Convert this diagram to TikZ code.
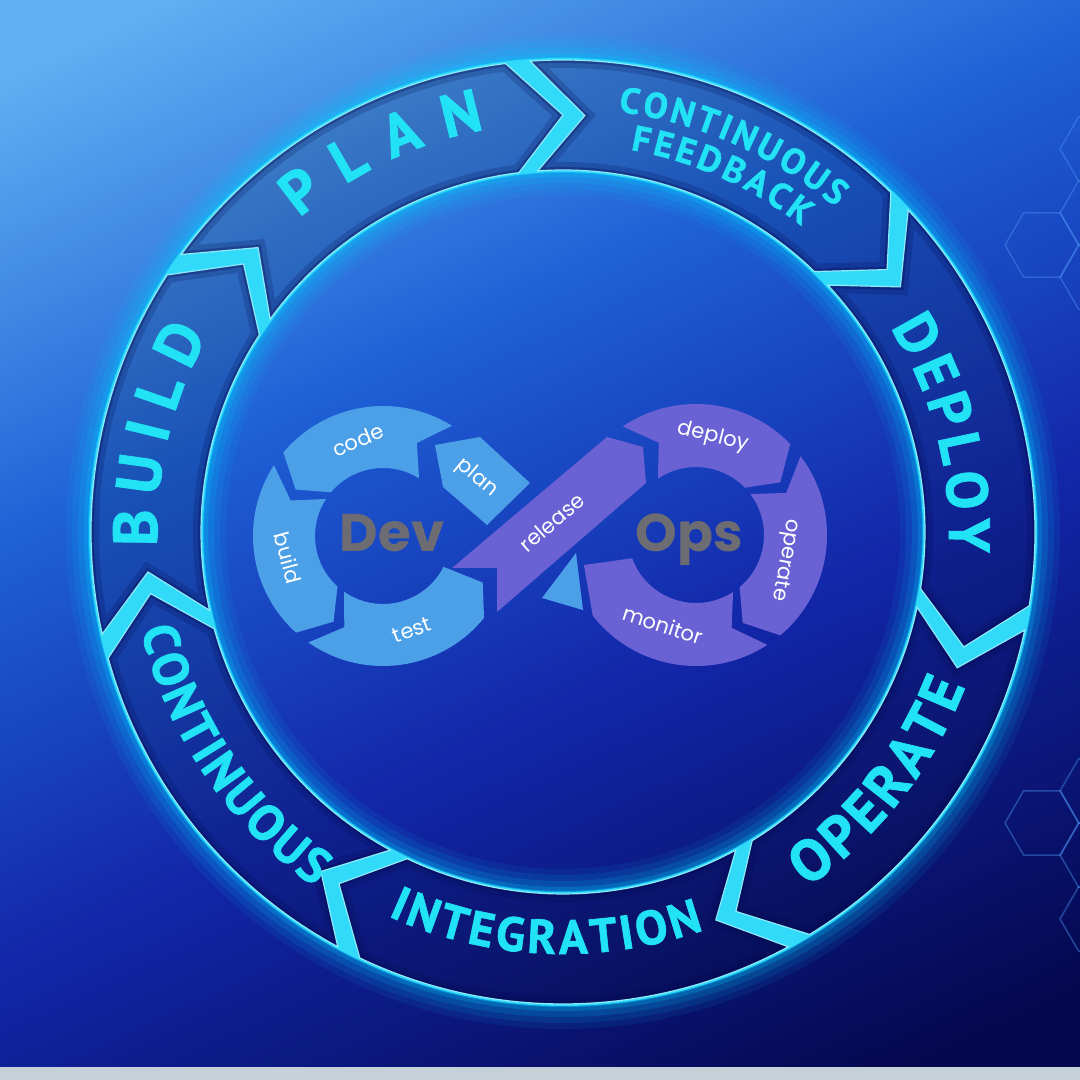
\documentclass[tikz,border=0pt]{standalone}
\usepackage{fontspec}
\usepackage{tikz}
\usetikzlibrary{decorations.text}
\newfontfamily\ringfont[BoldFeatures={FakeBold=1.3}]{PT Sans}
\newfontfamily\logofont{Poppins}
\definecolor{bgtop}{RGB}{96,176,242}
\definecolor{bgmid}{RGB}{30,96,214}
\definecolor{bgdeep}{RGB}{18,38,168}
\definecolor{bgdark}{RGB}{4,8,78}
\definecolor{ringcyan}{RGB}{50,218,250}
\definecolor{glowcyan}{RGB}{0,205,255}
\definecolor{lblcyan}{RGB}{34,226,246}
\definecolor{devblue}{RGB}{76,160,232}
\definecolor{opspurple}{RGB}{106,98,212}
\definecolor{devgray}{RGB}{108,108,114}
\definecolor{hexline}{RGB}{72,142,236}
\definecolor{stripgray}{RGB}{197,208,216}

\pgfdeclareverticalshading{bgfade}{100bp}{color(0bp)=(bgdark); color(20bp)=(bgdark); color(42bp)=(bgdeep); color(60bp)=(bgmid); color(80bp)=(bgtop); color(100bp)=(bgtop)}

% one arrow of the outer ring: tail corner, tail notch, head corner, head tip
\newcommand{\ringseg}[4]{(#1:472) arc[start angle=#1, end angle=#3, radius=472] -- (#4:417) -- (#3:362) arc[start angle=#3, end angle=#1, radius=362] -- (#2:417) -- cycle}

% curved label: start angle, end angle, radius, size, text
\newcommand{\ringlabel}[5]{%
  \path[decorate, decoration={text along path, text color=lblcyan, text align={fit to path}, text={|\ringfont\bfseries\fontsize{#4}{#4}\selectfont|#5}}] (#1:#3) arc[start angle=#1, end angle=#2, radius=#3];
}

\begin{document}
\begin{tikzpicture}[x=1pt, y=1pt,
  steptxt/.style={text=white, font=\logofont\fontsize{21}{21}\selectfont},
  bigtxt/.style={text=devgray, anchor=base, font=\logofont\bfseries\fontsize{53}{53}\selectfont}]
\useasboundingbox (0,0) rectangle (1080,1080);

% Background
\shade[shading=bgfade, shading angle=25] (0,13) rectangle (1080,1080);
\fill[stripgray] (0,0) rectangle (1080,13);

% Hexagons on the right
\foreach \hx/\hy in {1042/835, 1097/867, 1097/803, 1097/931, 1042/257, 1097/289, 1097/225, 1097/161} {
    \draw[hexline, opacity=0.45, line width=1.5] (\hx,\hy) +(0:37) -- +(60:37) -- +(120:37) -- +(180:37) -- +(240:37) -- +(300:37) -- cycle;
}

% Outer ring
\begin{scope}[shift={(563,548)}]
% glow
\foreach \lw/\op in {50/0.08, 38/0.10, 26/0.14, 14/0.22, 6/0.45} {
    \draw[glowcyan, line width=\lw, opacity=\op] (0,0) circle[radius=472];
    \draw[glowcyan, line width=\lw, opacity=\op] (0,0) circle[radius=362];
}
% cyan band between the arrows
\fill[ringcyan, even odd rule] (0,0) circle[radius=474] (0,0) circle[radius=360];

% arrows
\begin{scope}
\clip \ringseg{144}{137}{97}{90} \ringseg{94}{87}{46}{39} \ringseg{43}{36}{-9}{-16}
      \ringseg{-12}{-19}{-58.5}{-65.5} \ringseg{-61.5}{-68.5}{-115.5}{-122.5}
      \ringseg{-118.5}{-125.5}{-164.5}{-171.5} \ringseg{192.5}{185.5}{147}{140};
\shade[shading=bgfade, shading angle=25] (-563,-535) rectangle (517,532);
\fill[black, opacity=0.14] (-563,-535) rectangle (517,532);
\foreach \pa/\pb/\pc/\pd in {144/137/97/90, 94/87/46/39, 43/36/-9/-16, -12/-19/-58.5/-65.5,
    -61.5/-68.5/-115.5/-122.5, -118.5/-125.5/-164.5/-171.5, 192.5/185.5/147/140} {
    \draw[bgdark, line width=16, opacity=0.2] \ringseg{\pa}{\pb}{\pc}{\pd};
    \draw[bgdark, line width=6, opacity=0.3] \ringseg{\pa}{\pb}{\pc}{\pd};
}
\end{scope}
\foreach \pa/\pb/\pc/\pd in {144/137/97/90, 94/87/46/39, 43/36/-9/-16, -12/-19/-58.5/-65.5,
    -61.5/-68.5/-115.5/-122.5, -118.5/-125.5/-164.5/-171.5, 192.5/185.5/147/140} {
    \draw[ringcyan!55!white, line width=1.2] \ringseg{\pa}{\pb}{\pc}{\pd};
}

% ring labels
\ringlabel{130}{101}{410}{60}{PLAN}
\ringlabel{82.5}{50}{424}{36}{CONTINUOUS}
\ringlabel{80}{52}{388}{36}{FEEDBACK}
\ringlabel{32}{-3}{386}{58}{DEPLOY}
\ringlabel{-55.5}{-21}{431}{58}{OPERATE}
\ringlabel{-114.5}{-70.5}{422}{48}{INTEGRATION}
\ringlabel{193}{235}{433}{50}{CONTINUOUS}
\ringlabel{182}{151}{406}{62}{BUILD}
\end{scope}

% Dev loop
\begin{scope}[shift={(383,544)}]
\fill[devblue] (58:130) arc[start angle=58, end angle=140, radius=130] -- (152:99) -- (140:68) arc[start angle=140, end angle=58, radius=68] -- (70:99) -- cycle;
\fill[devblue] (147:130) arc[start angle=147, end angle=228, radius=130] -- (240:99) -- (228:68) arc[start angle=228, end angle=147, radius=68] -- (159:99) -- cycle;
\fill[devblue] (235:130) arc[start angle=235, end angle=321, radius=130] -- (335:110) -- (333:68) arc[start angle=333, end angle=235, radius=68] -- (247:99) -- cycle;
\end{scope}
\fill[devblue] (435,635) -- (480,643) -- (530,597) -- (487,555) -- (443,593) -- cycle;
\fill[devblue] (542,482) -- (576,527) -- (583,470) -- cycle;

% release band
\fill[opspurple] (452,512) -- (607,643) -- (643,633) -- (646,597) -- (497,468) -- (497,512) -- cycle;

% Ops loop
\begin{scope}[shift={(696,545)}]
\fill[opspurple] (124:131) arc[start angle=124, end angle=44, radius=131] -- (32:99.5) -- (44:68) arc[start angle=44, end angle=124, radius=68] -- (112:99.5) -- cycle;
\fill[opspurple] (37:131) arc[start angle=37, end angle=-50, radius=131] -- (-62:99.5) -- (-50:68) arc[start angle=-50, end angle=37, radius=68] -- (25:99.5) -- cycle;
\fill[opspurple] (-57:131) arc[start angle=-57, end angle=-142, radius=131] -- (-165:116) -- (-160:68) arc[start angle=-160, end angle=-57, radius=68] -- (-69:99.5) -- cycle;
\end{scope}

% step labels
\node[steptxt, rotate=22] (code) at (358,640) {code};
\node[steptxt, rotate=-40] (plan) at (477,602) {plan};
\node[steptxt, rotate=-75] (build) at (288,522) {build};
\node[steptxt, rotate=20] (test) at (412,450) {test};
\node[steptxt, rotate=41] (release) at (552,558) {release};
\node[steptxt, rotate=-14] (deploy) at (713,643) {deploy};
\node[steptxt, rotate=-100] (operate) at (785,520) {operate};
\node[steptxt, rotate=-18] (monitor) at (663,455) {monitor};

\node[bigtxt] (dev) at (392,528) {Dev};
\node[bigtxt] (ops) at (689,528) {Ops};
\end{tikzpicture}
\end{document}
